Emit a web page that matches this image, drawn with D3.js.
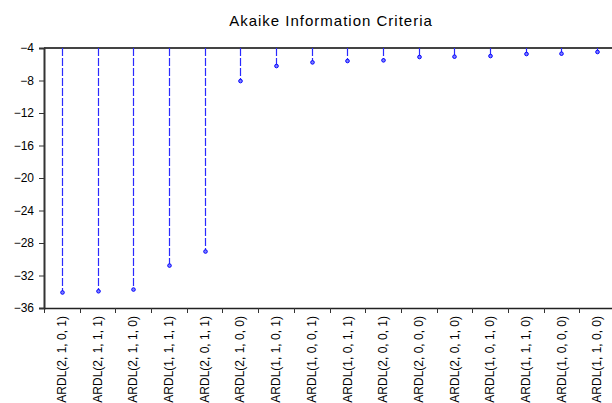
<!DOCTYPE html>
<html><head><meta charset="utf-8">
<script src="https://cdn.jsdelivr.net/npm/d3@7"></script>
<style>body{margin:0;background:#fff}svg{display:block}</style>
</head><body>
<svg id="c" width="612" height="403"></svg>
<script>
const categories = ["ARDL(2, 1, 0, 1)","ARDL(2, 1, 1, 1)","ARDL(2, 1, 1, 0)","ARDL(1, 1, 1, 1)","ARDL(2, 0, 1, 1)","ARDL(2, 1, 0, 0)","ARDL(1, 1, 0, 1)","ARDL(1, 0, 0, 1)","ARDL(1, 0, 1, 1)","ARDL(2, 0, 0, 1)","ARDL(2, 0, 0, 0)","ARDL(2, 0, 1, 0)","ARDL(1, 0, 1, 0)","ARDL(1, 1, 1, 0)","ARDL(1, 0, 0, 0)","ARDL(1, 1, 0, 0)"];
const aicValues = [-34.09,-33.94,-33.73,-30.78,-29.05,-8.07,-6.22,-5.77,-5.60,-5.52,-5.11,-5.07,-4.99,-4.74,-4.70,-4.49];
const yTicks = [-36,-32,-28,-24,-20,-16,-12,-8,-4];
const title = "Akaike Information Criteria";

const svg = d3.select("#c");
const font = "'Liberation Sans', Arial, sans-serif";
const x = d3.scaleBand().domain(categories).range([44, 615]).padding(0);
const y = d3.scaleLinear().domain([-36, -4]).range([308, 48]);
const cx = (i) => Math.round(x(categories[i]) + x.bandwidth()/2) + 0.5;

svg.append("text").attr("x", 331).attr("y", 26).attr("text-anchor","middle")
  .attr("font-family", font).attr("font-size", 15).attr("letter-spacing", 1).attr("fill","#000").text(title);

// top line at -4
svg.append("line").attr("x1", 44).attr("x2", 612).attr("y1", y(-4)).attr("y2", y(-4))
  .attr("stroke","#444").attr("stroke-width",2);

// y axis
const ya = svg.append("g").attr("transform","translate(44,0)")
  .call(d3.axisLeft(y).tickValues(yTicks).tickSize(5).tickPadding(5).tickFormat(d3.format("d")));
ya.select(".domain").attr("stroke","#333").attr("stroke-width",2);
ya.selectAll(".tick line").attr("stroke","#333");
ya.selectAll("text").attr("font-family", font).attr("font-size", 12).attr("fill","#000");

// x axis
const xa = svg.append("g").attr("transform","translate(0,308)")
  .call(d3.axisBottom(x).tickSize(0).tickSizeOuter(0));
xa.select(".domain").attr("stroke","#222").attr("stroke-width",1.5);
xa.selectAll(".tick text").attr("font-family", font).attr("font-size", 12).attr("fill","#000")
  .attr("transform","rotate(-90)").attr("text-anchor","end").attr("x",-8).attr("y",0).attr("dy","0.35em");
// band boundary ticks
xa.selectAll(".bt").data(categories).enter().append("line")
  .attr("x1", d => Math.round(x(d))+0.5).attr("x2", d => Math.round(x(d))+0.5).attr("y1", 0).attr("y2", 5)
  .attr("stroke","#333");

// stems
const g = svg.append("g");
g.selectAll(".stem").data(aicValues).enter().append("line")
  .attr("x1",(d,i)=>cx(i)).attr("x2",(d,i)=>cx(i))
  .attr("y1", y(-4)).attr("y2", d => y(d))
  .attr("stroke","#2a2aff").attr("stroke-width",1.2).attr("stroke-dasharray","8,2");
g.selectAll(".dot").data(aicValues).enter().append("circle")
  .attr("cx",(d,i)=>cx(i)).attr("cy", d => y(d)).attr("r",1.8)
  .attr("fill","#8080ff").attr("stroke","#0000ff").attr("stroke-width",1);
</script>
</body></html>
